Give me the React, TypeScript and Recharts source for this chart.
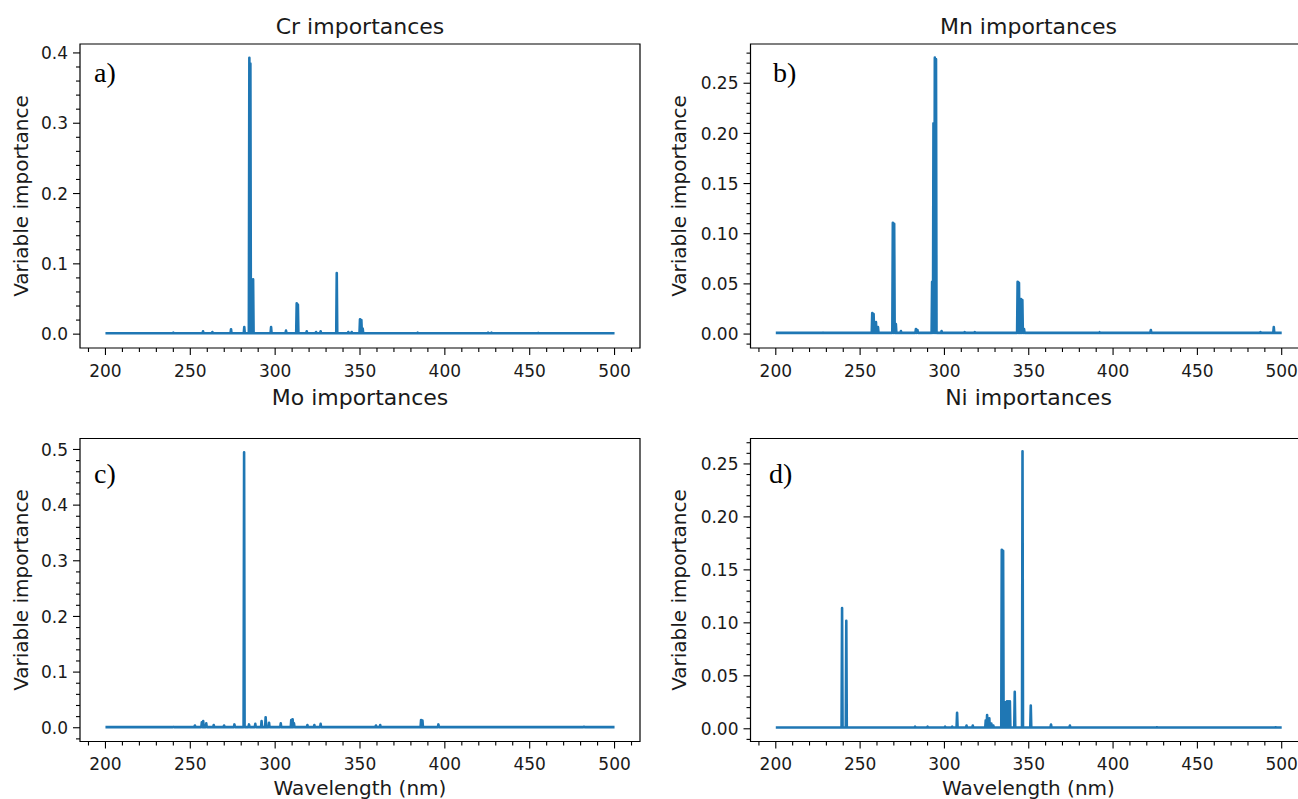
import React from 'react';
import { LineChart, Line, XAxis, YAxis, ReferenceArea } from 'recharts';

// ---------- data ----------
const xMajorTicks = [200, 250, 300, 350, 400, 450, 500];
const xDomain: [number, number] = [185, 515];
const xStart = 200;
const xEnd = 500;

// Cr importances (a)
const crWavelengths = [240, 257.5, 263, 274.0, 281.8, 284.8, 285.4, 286.2, 287.0, 297.6, 306.4, 312.7, 313.4, 318.6, 324.1, 326.8, 336.3, 343.1, 345.1, 350.0, 350.8, 351.6, 384.0, 425.5, 427.5, 455];
const crValues = [0.002, 0.004, 0.003, 0.007, 0.01, 0.393, 0.385, 0.049, 0.078, 0.01, 0.005, 0.044, 0.042, 0.004, 0.003, 0.004, 0.087, 0.003, 0.003, 0.021, 0.02, 0.008, 0.002, 0.002, 0.002, 0.0018];
const crYTicks = [0, 0.1, 0.2, 0.3, 0.4];
const crYDomain: [number, number] = [-0.0197, 0.4127];

// Mn importances (b)
const mnWavelengths = [228, 257.2, 258.0, 259.4, 260.6, 269.4, 270.2, 271.2, 274.2, 283.1, 284.0, 292.7, 293.5, 294.3, 295.0, 298.3, 312, 318, 343.4, 344.2, 345.4, 346.2, 347.2, 392, 422.4, 487.4, 495.3];
const mnValues = [0.0015, 0.021, 0.02, 0.012, 0.007, 0.111, 0.11, 0.01, 0.003, 0.005, 0.004, 0.052, 0.21, 0.2755, 0.274, 0.003, 0.002, 0.002, 0.052, 0.051, 0.035, 0.034, 0.005, 0.0018, 0.004, 0.002, 0.007];
const mnYTicks = [0, 0.05, 0.1, 0.15, 0.2, 0.25];
const mnYDomain: [number, number] = [-0.0139, 0.2891];

// Mo importances (c)
const moWavelengths = [240, 252.7, 256.8, 257.6, 259.4, 263.8, 269.9, 276.0, 281.7, 284.6, 288.3, 292.0, 294.4, 296.4, 303.3, 309.5, 310.3, 311.1, 319.0, 323.1, 326.8, 359.4, 361.9, 386.0, 386.8, 396.2, 482];
const moValues = [0.0015, 0.004, 0.01, 0.012, 0.008, 0.005, 0.004, 0.006, 0.495, 0.006, 0.007, 0.012, 0.019, 0.009, 0.008, 0.014, 0.015, 0.008, 0.005, 0.005, 0.007, 0.004, 0.005, 0.014, 0.013, 0.006, 0.002];
const moYTicks = [0, 0.1, 0.2, 0.3, 0.4, 0.5];
const moYDomain: [number, number] = [-0.0247, 0.5197];

// Ni importances (d)
const niWavelengths = [239.3, 241.8, 282.6, 290, 300.4, 304.6, 307.5, 313.1, 316.8, 324.5, 325.3, 326.6, 327.8, 329.0, 334.0, 334.8, 336.3, 337.1, 337.8, 338.8, 341.7, 346.3, 351.2, 363.2, 374.4, 426, 496.4];
const niValues = [0.114, 0.102, 0.002, 0.002, 0.002, 0.002, 0.015, 0.003, 0.003, 0.008, 0.013, 0.01, 0.005, 0.003, 0.169, 0.168, 0.025, 0.026, 0.026, 0.026, 0.035, 0.262, 0.022, 0.004, 0.003, 0.0015, 0.0015];
const niYTicks = [0, 0.05, 0.1, 0.15, 0.2, 0.25];
const niYDomain: [number, number] = [-0.012, 0.274];

const titles = ['Cr importances', 'Mn importances', 'Mo importances', 'Ni importances'];
const panelLetters = ['a)', 'b)', 'c)', 'd)'];
const xLabel = 'Wavelength (nm)';
const yLabel = 'Variable importance';

// ---------- helpers ----------
const BASELINE = 0.0012;
const HALF_WIDTH = 0.3;
const LINE_COLOR = '#1f77b4';
const TEXT_COLOR = '#1a1a1a';
const FONT = "'DejaVu Sans', sans-serif";

function buildSpectrum(wl: number[], vals: number[]) {
  const pts: { x: number; y: number }[] = [{ x: xStart, y: BASELINE }];
  wl.forEach((w, i) => {
    pts.push({ x: w - HALF_WIDTH, y: BASELINE });
    pts.push({ x: w, y: vals[i] });
    pts.push({ x: w + HALF_WIDTH, y: BASELINE });
  });
  pts.push({ x: xEnd, y: BASELINE });
  pts.sort((a, b) => a.x - b.x);
  return pts;
}

function stepTicks(lo: number, hi: number, step: number) {
  const s = Math.ceil(lo / step - 1e-9);
  const e = Math.floor(hi / step + 1e-9);
  const out: number[] = [];
  for (let i = s; i <= e; i++) out.push(+(i * step).toFixed(6));
  return out;
}

const isMajor = (v: number, majors: number[]) => majors.some((m) => Math.abs(m - v) < 1e-6);

const XTick = (props: any) => {
  const { x, y, payload } = props;
  const v = payload.value;
  const major = isMajor(v, xMajorTicks);
  return (
    <g>
      <line x1={x} x2={x} y1={y} y2={y + (major ? 7 : 4)} stroke="#000" strokeWidth={1.1} />
      {major && (
        <text x={x} y={y + 28.5} textAnchor="middle" fontSize={17} fill={TEXT_COLOR} fontFamily={FONT}>
          {v}
        </text>
      )}
    </g>
  );
};

const makeYTick = (majors: number[], digits: number) => (props: any) => {
  const { x, y, payload } = props;
  const v = payload.value;
  const major = isMajor(v, majors);
  return (
    <g>
      <line x1={x - (major ? 7 : 4)} x2={x} y1={y} y2={y} stroke="#000" strokeWidth={1.1} />
      {major && (
        <text x={x - 12} y={y} dy="0.36em" textAnchor="end" fontSize={17} fill={TEXT_COLOR} fontFamily={FONT}>
          {v.toFixed(digits)}
        </text>
      )}
    </g>
  );
};

type PanelProps = {
  left: number;
  top: number;
  marginTop: number;
  marginRight: number;
  yAxisWidth: number;
  xAxisHeight: number;
  wavelengths: number[];
  values: number[];
  yDomain: [number, number];
  yMajor: number[];
  yMinorStep: number;
  yDigits: number;
};

function Panel(p: PanelProps) {
  const data = buildSpectrum(p.wavelengths, p.values);
  const yTicks = stepTicks(p.yDomain[0], p.yDomain[1], p.yMinorStep);
  const xTicks = stepTicks(xDomain[0], xDomain[1], 10);
  return (
    <div style={{ position: 'absolute', left: p.left, top: p.top }}>
      <LineChart
        width={660}
        height={400}
        data={data}
        margin={{ top: p.marginTop, right: p.marginRight, bottom: 0, left: 0 }}
      >
        <XAxis
          dataKey="x"
          type="number"
          domain={xDomain}
          ticks={xTicks}
          interval={0}
          tickSize={0}
          tickMargin={0}
          tickLine={false}
          axisLine={false}
          height={p.xAxisHeight}
          tick={(tp: any) => <XTick {...tp} />}
          allowDataOverflow
        />
        <YAxis
          type="number"
          domain={p.yDomain}
          ticks={yTicks}
          interval={0}
          tickSize={0}
          tickMargin={0}
          tickLine={false}
          axisLine={false}
          width={p.yAxisWidth}
          tick={makeYTick(p.yMajor, p.yDigits)}
          allowDataOverflow
        />
        <ReferenceArea
          x1={xDomain[0]}
          x2={xDomain[1]}
          y1={p.yDomain[0]}
          y2={p.yDomain[1]}
          fill="none"
          fillOpacity={0}
          stroke="#000"
          strokeWidth={1.2}
          ifOverflow="visible"
        />
        <Line
          dataKey="y"
          type="linear"
          dot={false}
          activeDot={false}
          stroke={LINE_COLOR}
          strokeWidth={2.6}
          strokeLinejoin="round"
          isAnimationActive={false}
        />
      </LineChart>
    </div>
  );
}

export default function App() {
  return (
    <div
      style={{
        position: 'absolute',
        left: 0,
        top: 0,
        width: 1298,
        height: 799,
        overflow: 'hidden',
        background: '#fff',
      }}
    >
      <Panel left={0} top={0} marginTop={44} marginRight={20} yAxisWidth={80} xAxisHeight={52}
        wavelengths={crWavelengths} values={crValues} yDomain={crYDomain} yMajor={crYTicks} yMinorStep={0.02} yDigits={1} />
      <Panel left={660} top={0} marginTop={44} marginRight={13} yAxisWidth={90.5} xAxisHeight={52}
        wavelengths={mnWavelengths} values={mnValues} yDomain={mnYDomain} yMajor={mnYTicks} yMinorStep={0.01} yDigits={2} />
      <Panel left={0} top={400} marginTop={38.5} marginRight={20} yAxisWidth={80} xAxisHeight={58.5}
        wavelengths={moWavelengths} values={moValues} yDomain={moYDomain} yMajor={moYTicks} yMinorStep={0.02} yDigits={1} />
      <Panel left={660} top={400} marginTop={38.5} marginRight={13} yAxisWidth={90.5} xAxisHeight={58.5}
        wavelengths={niWavelengths} values={niValues} yDomain={niYDomain} yMajor={niYTicks} yMinorStep={0.01} yDigits={2} />

      <svg
        width={1298}
        height={799}
        style={{ position: 'absolute', left: 0, top: 0, pointerEvents: 'none' }}
      >
        <g fontFamily={FONT} fill={TEXT_COLOR}>
          <text x={360} y={33.5} fontSize={22} textAnchor="middle">{titles[0]}</text>
          <text x={1028.5} y={33.5} fontSize={22} textAnchor="middle">{titles[1]}</text>
          <text x={360} y={405} fontSize={22} textAnchor="middle">{titles[2]}</text>
          <text x={1028.5} y={405} fontSize={22} textAnchor="middle">{titles[3]}</text>

          <text x={360} y={795} fontSize={20} textAnchor="middle">{xLabel}</text>
          <text x={1028.5} y={795} fontSize={20} textAnchor="middle">{xLabel}</text>

          <text transform="translate(28,196) rotate(-90)" fontSize={20} textAnchor="middle">{yLabel}</text>
          <text transform="translate(686,196) rotate(-90)" fontSize={20} textAnchor="middle">{yLabel}</text>
          <text transform="translate(28,590) rotate(-90)" fontSize={20} textAnchor="middle">{yLabel}</text>
          <text transform="translate(686,590) rotate(-90)" fontSize={20} textAnchor="middle">{yLabel}</text>
        </g>
        <g fontFamily="'Liberation Serif', 'Times New Roman', serif" fill="#000" fontSize={28}>
          <text x={94} y={82}>{panelLetters[0]}</text>
          <text x={773} y={82}>{panelLetters[1]}</text>
          <text x={94} y={483}>{panelLetters[2]}</text>
          <text x={769} y={483}>{panelLetters[3]}</text>
        </g>
      </svg>
    </div>
  );
}
